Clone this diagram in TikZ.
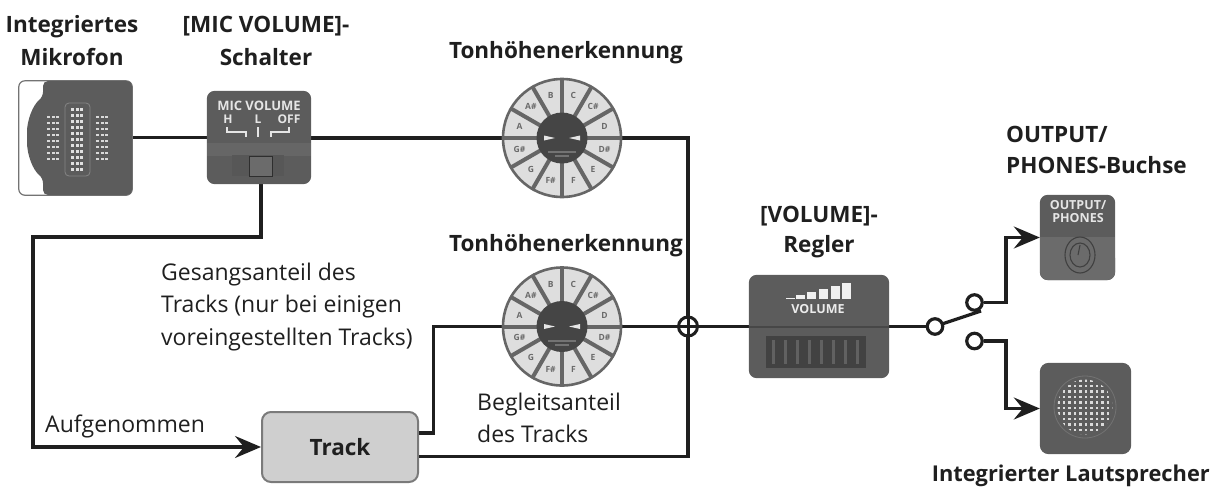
\documentclass[tikz,border=0pt]{standalone}
\usepackage{fontspec}
\setmainfont{Open Sans}
\usetikzlibrary{arrows.meta,calc}
\definecolor{dev}{gray}{0.36}
\definecolor{devd}{gray}{0.27}
\definecolor{devl}{gray}{0.40}
\definecolor{sect}{gray}{0.87}
\definecolor{ln}{gray}{0.12}
\tikzset{
 x=1pt,y=-1pt,
 wire/.style={draw=ln,line width=3.2pt,line join=miter},
 arrowwire/.style={wire,-{Stealth[length=26pt,width=22pt,inset=9pt]}},
 lab/.style={inner sep=0,font=\fontsize{22.5}{33}\selectfont\bfseries,text=black!88,align=center},
 plain/.style={inner sep=0,font=\fontsize{23}{32.5}\selectfont,text=black!88,align=left},
 terminal/.style={circle,draw=ln,line width=3.2pt,fill=white,minimum size=15.5pt,inner sep=0},
 hub/.style={circle,draw=none,inner sep=0,minimum size=120pt},
 note/.style={font=\fontsize{8.5}{8.5}\selectfont\bfseries,text=black!58,inner sep=0},
}
\newcommand{\wheel}[1]{%
 \fill[sect,draw=devl,line width=2.6pt] (#1.center) circle (59);
 \foreach \a in {0,30,...,330}{\draw[devl,line width=4pt] (#1.center) -- ++(\a:60);}
 \fill[devd] (#1.center) circle (25.5);
 \foreach \n/\a in {C/-75,C\#/-45,D/-15,D\#/15,E/45,F/75,F\#/105,G/135,G\#/165,A/-165,A\#/-135,B/-105}{
  \node[note] at ($(#1.center)+(\a:44)$) {\n};}
 \fill[black!10] ($(#1.center)+(-18,-2.5)$) -- ++(11,2.5) -- ++(-11,2.5) -- cycle;
 \fill[black!10] ($(#1.center)+(18,-2.5)$) -- ++(-11,2.5) -- ++(11,2.5) -- cycle;
 \fill[black!55] ($(#1.center)+(-14,13)$) rectangle ($(#1.center)+(14,15)$);
 \fill[black!55] ($(#1.center)+(-7,17)$) rectangle ($(#1.center)+(7,19)$);
}
\begin{document}
\begin{tikzpicture}
\useasboundingbox (0,0) rectangle (1212,493);
\node[hub] (w1) at (562,138) {};
\node[hub] (w2) at (562,326.5) {};
\node[circle,minimum size=19pt,inner sep=0] (sum) at (688,326.5) {};
\node[inner sep=0,minimum width=113pt,minimum height=114pt] (mic) at (75.5,138) {};
\node[inner sep=0,minimum width=104pt,minimum height=93pt] (sw) at (259,137.5) {};
\node[inner sep=0,minimum width=140pt,minimum height=103pt] (vol) at (819,326.5) {};
\node[inner sep=0,minimum width=75pt,minimum height=85pt] (out) at (1077.5,237.5) {};
\node[inner sep=0,minimum width=91pt,minimum height=91pt] (spk) at (1085.5,408.5) {};
\node[draw=black!52,line width=2pt,fill=black!19,rounded corners=9pt,minimum width=156pt,minimum height=70pt,inner sep=0,font=\fontsize{22.5}{24}\selectfont\bfseries,text=black!88] (track) at (340,447) {Track};
\coordinate (t1) at (track.east|-0,433);
\coordinate (t2) at (track.east|-0,456.5);
\coordinate (m1) at (433.5,326.5);
\coordinate (sb) at (261,184);
\coordinate (bend) at (261,237);
\coordinate (corner) at (33,237);
\coordinate (leverA) at (942,324);
\coordinate (leverB) at (981,311);
\coordinate (ja) at (1006,302.5);
\coordinate (jb) at (1006,341);
\draw[wire] (mic.east|-0,137.5) -- (sw.west|-0,137.5);
\draw[wire] (sw.east|-0,138) -- (w1.west|-0,138);
\draw[wire] (w1.east) -| (sum.north);
\draw[wire] (sum.south) |- (t2);
\draw[wire] (t1) -| (m1) -- (w2.west);
\draw[wire] (w2.east) -- (sum.west);
\draw[wire] (sum.east) -- (vol.west);
\draw[arrowwire] (sb) -- (bend) -- (corner) |- (track.west);
\draw[ln,line width=3pt] (sum) circle (9.5);
\draw[ln,line width=3pt] (sum.north) -- (sum.south) (sum.west) -- (sum.east);
% terminals and switch
\draw[wire] (vol.east) -- (935,326.5);
\draw[wire] (leverA) -- (leverB);
\node[terminal] (tin) at (935,326.5) {};
\node[terminal] (ta) at (974.5,302.5) {};
\node[terminal] (tb) at (974.5,341) {};
\draw[arrowwire] (ta.east) -- (ja) |- (out.west);
\draw[arrowwire] (tb.east) -- (jb) |- (spk.west);
% microphone
\fill[white,draw=black!55,line width=1.2pt,rounded corners=6pt] (mic.north west) rectangle (mic.south east);
\fill[dev,rounded corners=5pt] (43,81) -- (132,81) -- (132,195) -- (43,195) -- (43,178) .. controls (33,170) and (27,155) .. (27,137) .. controls (27,120) and (33,105) .. (43,97) -- cycle;
\draw[black!48,line width=.8pt,rounded corners=4pt] (65,103) rectangle (90,176);
\foreach \y in {108,114,...,168}{\foreach \x in {71,75.5,80}{\fill[black!12] (\x,\y) rectangle +(3.4,2.6);}}
\foreach \y in {116,122,...,158}{\foreach \x in {47,51.5,56}{\fill[black!15] (\x,\y) rectangle +(3,2.4);}
 \foreach \x in {96,100.5,105}{\fill[black!15] (\x,\y) rectangle +(3,2.4);}}
% mic switch
\fill[dev,rounded corners=8pt] (sw.north west) rectangle (sw.south east);
\fill[devl] (207,143) rectangle (311,156);
\fill[black!66] (232,155) rectangle (284,176);
\fill[black!58] (249,156) rectangle (272,176);
\draw[black!82,line width=1pt] (249,156) rectangle (272,176);
\node[inner sep=0,text=black!10,font=\fontsize{13}{13}\selectfont\bfseries] at (259,106) {MIC VOLUME};
\node[inner sep=0,text=black!10,font=\fontsize{12}{12}\selectfont\bfseries] at (228,119) {H};
\node[inner sep=0,text=black!10,font=\fontsize{12}{12}\selectfont\bfseries] at (258,119) {L};
\node[inner sep=0,text=black!10,font=\fontsize{12}{12}\selectfont\bfseries] at (289,119) {OFF};
\draw[black!10,line width=1.4pt] (227,127) -- (227,132) -- (246,132) -- (246,137);
\draw[black!10,line width=1.4pt] (289,127) -- (289,132) -- (271,132) -- (271,137);
\draw[black!10,line width=2.4pt] (258,127) -- (258,137);
% wheels
\wheel{w1}
\wheel{w2}
% volume
\fill[dev,rounded corners=8pt] (vol.north west) rectangle (vol.south east);
\fill[black!72] (749,326) rectangle (889,328);
\fill[black!74] (766,336) rectangle (866,368);
\foreach \x in {772,784,...,856}{\fill[black!62] (\x,340) rectangle (\x+3,364);}
\foreach \x/\h in {786/1.5,796/4,807/7,819/10,831/13,842/16}{\fill[black!6] (\x,299-\h) rectangle (\x+9,299);}
\node[inner sep=0,text=black!8,font=\fontsize{12.5}{13}\selectfont\bfseries] at (818,309) {VOLUME};
% output
\fill[dev,rounded corners=8pt] (out.north west) rectangle (out.south east);
\fill[black!58] (1040,237) rectangle (1115,268);
\fill[black!58,rounded corners=8pt] (1040,250) rectangle (1115,280);
\node[inner sep=0,align=center,text=black!10,font=\fontsize{12.5}{13}\selectfont\bfseries] at (1078,212) {OUTPUT/\\PHONES};
\draw[black!75,line width=1.1pt] (1080,255) ellipse (15 and 18);
\draw[black!75,line width=1.1pt] (1080,255) ellipse (10 and 12);
\draw[black!75,line width=1.1pt] (1080,245) -- (1078,255);
% speaker
\fill[dev,rounded corners=9pt] (spk.north west) rectangle (spk.south east);
\draw[black!55,line width=.8pt] (1085,407) circle (31);
\begin{scope}
\clip (1085,407) circle (27.5);
\foreach \x in {1057,1062.5,...,1114}{\foreach \y in {379,384.5,...,436}{\fill[black!14] (\x,\y) rectangle +(2.8,2.8);}}
\end{scope}
% labels
\node[lab] (lmic) at (72,40.5) {Integriertes\\Mikrofon};
\node[lab] (lsw) at (266,40.5) {[MIC VOLUME]-\\Schalter};
\node[lab] (lw1) at (566,53) {Tonhöhenerkennung};
\node[lab] (lw2) at (566,246) {Tonhöhenerkennung};
\node[lab,font=\fontsize{22.5}{30.5}\selectfont\bfseries] (lvol) at (819,232) {[VOLUME]-\\Regler};
\node[lab,align=left,anchor=west,font=\fontsize{22.5}{31}\selectfont\bfseries] (lout) at (1006,150) {OUTPUT/\\PHONES-Buchse};
\node[lab,anchor=east,font=\fontsize{21.8}{24}\selectfont\bfseries] (lspk) at (1210,476) {Integrierter Lautsprecher};
\node[plain,anchor=west] (lges) at (161,307) {Gesangsanteil des\\Tracks (nur bei einigen\\voreingestellten Tracks)};
\node[plain,anchor=west] (lauf) at (45,426) {Aufgenommen};
\node[plain,anchor=west] (lbeg) at (477,418) {Begleitsanteil\\des Tracks};
\end{tikzpicture}
\end{document}
